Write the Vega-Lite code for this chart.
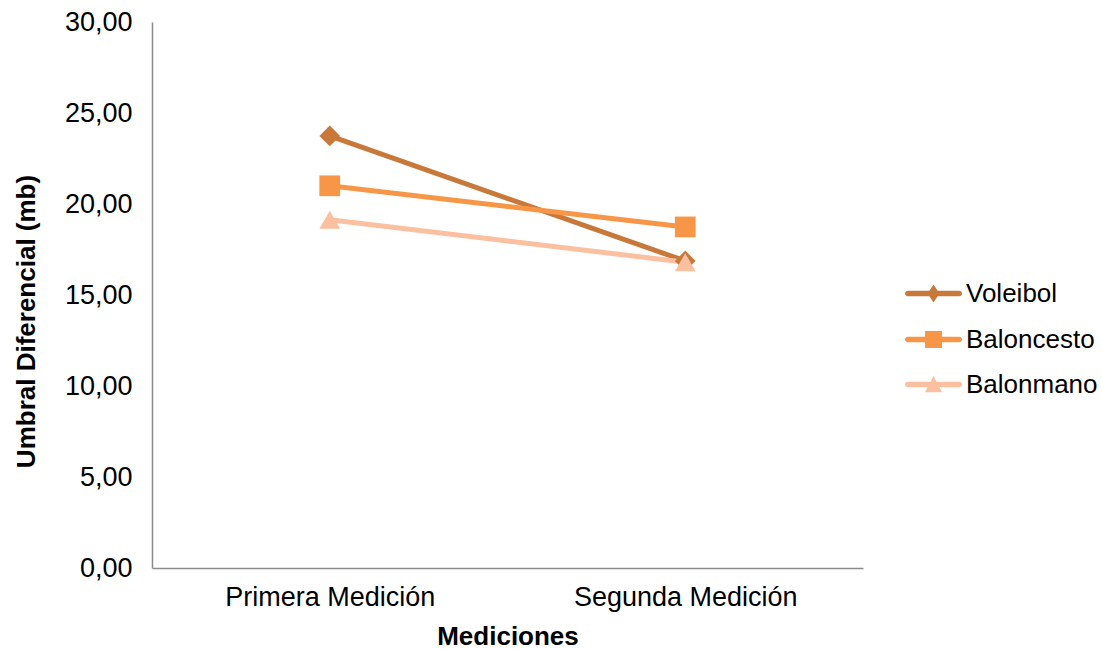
{
  "$schema": "https://vega.github.io/schema/vega-lite/v6.json",
  "width": 711,
  "height": 546,
  "autosize": "none",
  "padding": {"left": 152, "top": 22, "right": 239, "bottom": 81},
  "background": "white",
  "config": {
    "view": {"stroke": null},
    "font": "Liberation Sans",
    "axis": {
      "labelFont": "Liberation Sans",
      "titleFont": "Liberation Sans",
      "labelFontSize": 27,
      "titleFontSize": 26,
      "titleFontWeight": "bold",
      "labelColor": "#000000",
      "titleColor": "#000000",
      "labelLimit": 400,
      "domainColor": "#8c8c8c",
      "domainWidth": 1.5,
      "ticks": false,
      "grid": false
    },
    "legend": {
      "labelFont": "Liberation Sans",
      "labelFontSize": 26,
      "labelColor": "#000000",
      "symbolOpacity": 1,
      "symbolSize": 3249,
      "symbolStrokeWidth": 0,
      "labelOffset": 4,
      "padding": 0,
      "orient": "none",
      "title": null
    }
  },
  "data": {
    "values": [
      {"Deporte": "Voleibol", "Medicion": "Primera Medición", "Valor": 23.74},
      {"Deporte": "Voleibol", "Medicion": "Segunda Medición", "Valor": 16.87},
      {"Deporte": "Baloncesto", "Medicion": "Primera Medición", "Valor": 21.0},
      {"Deporte": "Baloncesto", "Medicion": "Segunda Medición", "Valor": 18.74},
      {"Deporte": "Balonmano", "Medicion": "Primera Medición", "Valor": 19.14},
      {"Deporte": "Balonmano", "Medicion": "Segunda Medición", "Valor": 16.8}
    ]
  },
  "encoding": {
    "x": {
      "field": "Medicion",
      "type": "nominal",
      "sort": ["Primera Medición", "Segunda Medición"],
      "scale": {"type": "point", "padding": 0.5},
      "axis": {"title": "Mediciones", "labelAngle": 0, "labelPadding": 16, "titlePadding": 13}
    },
    "y": {
      "field": "Valor",
      "type": "quantitative",
      "scale": {"domain": [0, 30], "nice": false},
      "axis": {
        "title": "Umbral Diferencial (mb)",
        "values": [0, 5, 10, 15, 20, 25, 30],
        "labelExpr": "replace(format(datum.value, '.2f'), '.', ',')",
        "labelPadding": 20,
        "titlePadding": 25,
        "titleY": 299
      }
    }
  },
  "layer": [
    {
      "mark": {"type": "line", "strokeWidth": 5},
      "encoding": {
        "color": {
          "field": "Deporte", "type": "nominal",
          "scale": {"domain": ["Voleibol", "Baloncesto", "Balonmano"], "range": ["#C8793A", "#F79646", "#FAC0A0"]},
          "legend": null
        },
        "detail": {"field": "Deporte"}
      }
    },
    {
      "mark": {"type": "point", "filled": true, "opacity": 1, "size": 430},
      "encoding": {
        "color": {
          "field": "Deporte", "type": "nominal",
          "scale": {"domain": ["Voleibol", "Baloncesto", "Balonmano"], "range": ["#C8793A", "#F79646", "#FAC0A0"]},
          "legend": null
        },
        "shape": {
          "field": "Deporte", "type": "nominal",
          "scale": {"domain": ["Voleibol", "Baloncesto", "Balonmano"], "range": ["diamond", "square", "triangle-up"]},
          "legend": null
        }
      }
    },
    {
      "transform": [{"filter": "datum.Deporte === 'Voleibol'"}],
      "mark": {"type": "point", "filled": true, "opacity": 0, "size": 3249, "color": "#C8793A"},
      "encoding": {
        "shape": {
          "field": "Deporte", "type": "nominal",
          "scale": {
            "domain": ["Voleibol"],
            "range": ["M-0.9,-0.1L0.9,-0.1A0.1,0.1 0 0 1 0.9,0.1L-0.9,0.1A0.1,0.1 0 0 1 -0.9,-0.1Z M0,-0.32L0.21,0L0,0.32L-0.21,0Z"]
          },
          "legend": {"title": null, "orient": "none", "legendX": 753, "legendY": 243, "symbolFillColor": "#C8793A"}
        }
      }
    },
    {
      "transform": [{"filter": "datum.Deporte === 'Baloncesto'"}],
      "mark": {"type": "point", "filled": true, "opacity": 0, "size": 3249, "color": "#F79646"},
      "encoding": {
        "shape": {
          "field": "Deporte", "type": "nominal",
          "scale": {
            "domain": ["Baloncesto"],
            "range": ["M-0.9,-0.1L0.9,-0.1A0.1,0.1 0 0 1 0.9,0.1L-0.9,0.1A0.1,0.1 0 0 1 -0.9,-0.1Z M-0.3,-0.3L0.3,-0.3L0.3,0.3L-0.3,0.3Z"]
          },
          "legend": {"title": null, "orient": "none", "legendX": 753, "legendY": 289, "symbolFillColor": "#F79646"}
        }
      }
    },
    {
      "transform": [{"filter": "datum.Deporte === 'Balonmano'"}],
      "mark": {"type": "point", "filled": true, "opacity": 0, "size": 3249, "color": "#FAC0A0"},
      "encoding": {
        "shape": {
          "field": "Deporte", "type": "nominal",
          "scale": {
            "domain": ["Balonmano"],
            "range": ["M-0.9,-0.1L0.9,-0.1A0.1,0.1 0 0 1 0.9,0.1L-0.9,0.1A0.1,0.1 0 0 1 -0.9,-0.1Z M0,-0.3L0.3,0.27L-0.3,0.27Z"]
          },
          "legend": {"title": null, "orient": "none", "legendX": 753, "legendY": 334, "symbolFillColor": "#FAC0A0"}
        }
      }
    }
  ],
  "resolve": {"scale": {"shape": "independent"}, "legend": {"shape": "independent"}}
}
